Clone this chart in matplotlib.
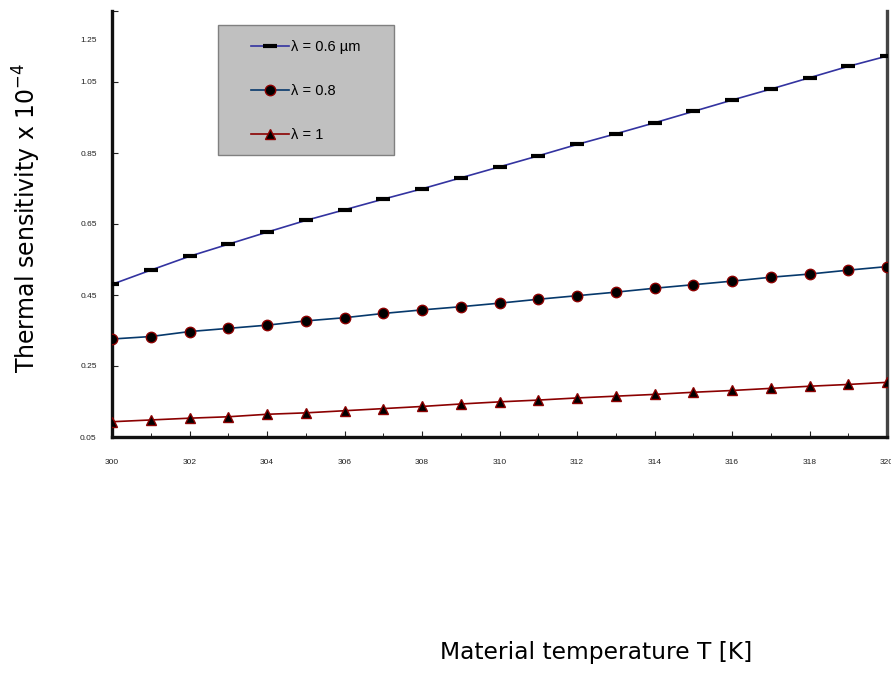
import numpy as np
import matplotlib
matplotlib.use('Agg')
import matplotlib.pyplot as plt
import matplotlib.transforms as mtransforms
from matplotlib.patches import Rectangle

# DATA
temperature = list(range(300, 321))
sens_06 = [0.480, 0.520, 0.559, 0.593, 0.627, 0.660, 0.690, 0.720, 0.749, 0.780, 0.811,
           0.842, 0.874, 0.904, 0.935, 0.967, 0.999, 1.030, 1.062, 1.094, 1.123]
sens_08 = [0.326, 0.333, 0.347, 0.356, 0.365, 0.377, 0.386, 0.398, 0.408, 0.417, 0.427,
           0.438, 0.448, 0.458, 0.469, 0.479, 0.489, 0.500, 0.509, 0.520, 0.530]
sens_10 = [0.093, 0.098, 0.103, 0.107, 0.114, 0.118, 0.124, 0.130, 0.136, 0.143, 0.149,
           0.154, 0.160, 0.165, 0.170, 0.176, 0.181, 0.187, 0.193, 0.198, 0.204]
labels = ['λ = 0.6 µm', 'λ = 0.8', 'λ = 1']
x_ticks = list(range(300, 321, 2))
y_ticks = [0.05, 0.25, 0.45, 0.65, 0.85, 1.05, 1.25]

fig = plt.figure(figsize=(8.91, 6.95), dpi=100)
ax = fig.add_axes([112 / 891, 1 - 437 / 695, 775 / 891, 426 / 695])

ax.plot(temperature, sens_06, color='#3333a0', lw=1.2, marker='_', ms=10, mew=3,
        mec='black', label=labels[0], zorder=3)
ax.plot(temperature, sens_08, color='#06386b', lw=1.2, marker='o', ms=7.5, mfc='black',
        mec='#8b0000', mew=1.0, label=labels[1], zorder=3)
ax.plot(temperature, sens_10, color='#8b0000', lw=1.2, marker='^', ms=7.5, mfc='black',
        mec='#8b0000', mew=1.0, label=labels[2], zorder=3)

ax.set_xlim(300, 320)
ax.set_ylim(0.05, 1.25)
ax.set_xticks(x_ticks)
ax.set_xticks(temperature, minor=True)
ax.set_yticks(y_ticks)
ax.set_yticklabels([f'{v:.2f}' for v in y_ticks])
ax.tick_params(axis='x', direction='in', length=4, width=0.8, pad=16, labelsize=6,
               colors='#222222')
ax.tick_params(axis='x', which='minor', direction='in', length=3, width=0.6)
ax.tick_params(axis='y', direction='in', length=4, width=0.8, pad=11, labelsize=6,
               colors='#222222')
for lab in ax.get_xticklabels() + ax.get_yticklabels():
    lab.set_family('Liberation Sans')

# top tick label sits lower in the original
offset = mtransforms.ScaledTranslation(0, -29 / 100, fig.dpi_scale_trans)
top_label = ax.get_yticklabels()[-1]
top_label.set_transform(top_label.get_transform() + offset)

ax.spines['top'].set_visible(False)
ax.spines['left'].set_linewidth(2.4)
ax.spines['bottom'].set_linewidth(2.4)
ax.spines['right'].set_linewidth(2.4)
ax.spines['left'].set_color('#111111')
ax.spines['bottom'].set_color('#111111')
ax.spines['right'].set_color('#444444')

# grey legend box
box = Rectangle(((218 - 112) / 775, (437 - 155) / 426), 176 / 775, 130 / 426,
                transform=ax.transAxes, facecolor='#c0c0c0', edgecolor='#808080',
                lw=1, zorder=4)
ax.add_patch(box)

leg = ax.legend(loc='upper left', bbox_to_anchor=((251 - 112) / 775, (437 - 40) / 426),
                frameon=False, prop={'family': 'Liberation Sans', 'size': 10.5},
                handlelength=2.6, handletextpad=0.15, labelspacing=2.05,
                borderpad=0, borderaxespad=0)
leg.set_zorder(5)

fig.text(596 / 891, 1 - 652 / 695, 'Material temperature T [K]', fontsize=16.8,
         ha='center', va='center', family='DejaVu Sans')
fig.text(27 / 891, 1 - 218 / 695, r'Thermal sensitivity x 10$^{-4}$', fontsize=17,
         ha='center', va='center', rotation=90, family='DejaVu Sans')

fig.savefig('out.png', dpi=100)
